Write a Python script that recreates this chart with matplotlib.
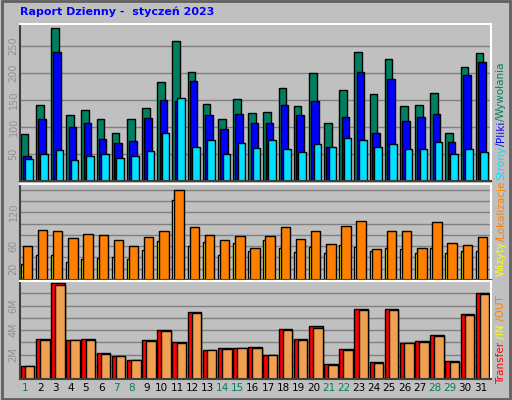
import matplotlib
matplotlib.use("Agg")
import matplotlib.pyplot as plt
import numpy as np

days = list(range(1, 32))
weekend = [1, 7, 8, 14, 15, 21, 22, 28, 29]
hits = [87,141,283,122,132,115,89,115,135,182,258,201,143,115,152,126,128,171,139,199,107,169,238,161,225,139,141,163,89,210,236]
files = [46,115,238,100,107,78,70,74,117,150,147,184,122,96,124,107,107,141,122,148,63,119,201,89,189,111,119,124,72,195,219]
pages = [40,50,57,39,46,50,42,46,55,89,154,63,76,50,70,61,76,59,53,68,63,80,76,63,68,59,59,72,50,59,53]
visits = [28,44,44,31,37,39,40,37,53,69,142,60,67,44,66,51,71,57,49,58,48,62,58,51,57,55,48,57,48,51,51]
sites = [60,89,87,75,82,80,71,60,77,87,160,93,80,71,78,57,78,93,73,86,64,95,105,55,86,86,57,102,66,62,77]
transfer = [1.10,3.30,7.80,3.20,3.30,2.10,1.87,1.58,3.20,4.00,3.05,5.47,2.36,2.54,2.54,2.62,1.96,4.09,3.30,4.29,1.24,2.45,5.73,1.41,5.73,2.97,3.14,3.57,1.50,5.30,7.03]
t_out = [1.08,3.22,7.70,3.20,3.22,2.08,1.85,1.56,3.12,3.92,2.97,5.38,2.34,2.48,2.52,2.55,1.94,4.00,3.22,4.20,1.16,2.36,5.65,1.34,5.65,2.90,3.06,3.48,1.42,5.22,6.95]
t_in = [0.08]*31

BG = '#c0c0c0'
fig = plt.figure(figsize=(5.12, 4.0), dpi=100, facecolor=BG)
W, H = 512, 400
def ax_at(x0, y0, x1, y1):
    a = fig.add_axes([x0/W, 1-y1/H, (x1-x0)/W, (y1-y0)/H])
    a.set_facecolor(BG)
    for s in a.spines.values():
        s.set_linewidth(1.5)
    a.spines['top'].set_color('white'); a.spines['right'].set_color('white')
    a.spines['left'].set_color('#404040'); a.spines['bottom'].set_color('#404040')
    a.set_xlim(0.6, 31.65)
    a.set_xticks([])
    a.tick_params(axis='y', length=0, labelsize=7, labelcolor='#909090', pad=1)
    a.set_axisbelow(True)
    a.grid(axis='y', color='#808080', lw=1)
    return a

x = np.array(days, dtype=float)
kw = dict(edgecolor='black', linewidth=1, align='edge')

a1 = ax_at(20, 24, 491, 181)
a1.bar(x-0.35, hits, 0.5, color='#008060', **kw)
a1.bar(x-0.2, files, 0.5, color='#0000ff', **kw)
a1.bar(x-0.05, pages, 0.5, color='#00e0ff', **kw)
a1.set_ylim(0, 290)
a1.set_yticks([50,100,150,200,250])

a2 = ax_at(20, 184, 491, 280)
a2.bar(x-0.35, visits, 0.55, color='#ffff00', **kw)
a2.bar(x-0.22, sites, 0.62, color='#ff8000', **kw)
a2.set_ylim(0, 170)
a2.set_yticks(range(20, 170, 20))
a2.set_yticklabels(['20','','60','','','120','',''])

a3 = ax_at(20, 281, 491, 379)
a3.bar(x-0.35, transfer, 0.9, color='#ff0000', **kw)
a3.bar(x-0.08, t_out, 0.63, color='#f0a050', **kw)
a3.bar(x-0.2, t_in, 0.12, color='#ffff00', edgecolor='black', linewidth=0.5, align='edge')
a3.set_ylim(0, 8.0)
a3.set_yticks(range(1, 8))
a3.set_yticklabels(['','2M','','4M','','6M',''])

for a in (a1, a2, a3):
    for l in a.get_yticklabels():
        l.set_rotation(90); l.set_va('center')

for d in days:
    a3.text(d - 0.05, -0.35, str(d), ha='center', va='top', fontsize=7.5,
            color='#008060' if d in weekend else 'black')

fig.text(20/W, 1-12/H, 'Raport Dzienny -  styczeń 2023', color='#0000ff',
         fontsize=8, fontweight='bold', va='center', ha='left')

fig.canvas.draw()
r = fig.canvas.get_renderer()
def stack(parts, y_start):
    y = y_start
    for s, c in parts:
        t = fig.text(501/W, y/H, s, rotation=90, rotation_mode='anchor',
                     ha='left', va='center', fontsize=7.5, color=c)
        bb = t.get_window_extent(renderer=r)
        y += bb.height
stack([('Strony', '#00e0ff'), ('/', '#0000ff'), ('Pliki', '#0000ff'), ('/', '#008060'), ('Wywołania', '#008060')], 400-180)
stack([('Wizyty', '#ffff00'), ('/', '#ff8000'), ('Lokalizacje', '#ff8000')], 400-276)
stack([('Transfer', '#ff0000'), (' /IN', '#ffff00'), (' /OUT', '#ff8000')], 400-384)

from matplotlib.patches import Rectangle
fig.patches.append(Rectangle((0.003, 0.003), 0.994, 0.994, transform=fig.transFigure,
                             fill=False, edgecolor='#606060', lw=2))
fig.savefig('out.png', dpi=100, facecolor=BG)
